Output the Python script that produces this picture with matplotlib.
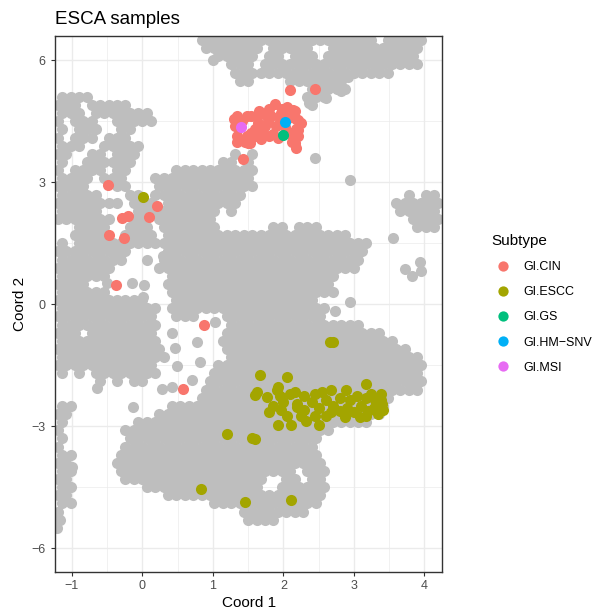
import matplotlib
matplotlib.use("Agg")
import matplotlib.pyplot as plt
from matplotlib.lines import Line2D

plt.rcParams["font.family"] = ["Liberation Sans", "DejaVu Sans"]

# ──────────────────────────────────────────────────────────────────────────
# Background samples (grey): (y, [x, ...])
# ──────────────────────────────────────────────────────────────────────────

GRAY_TOP = [
    (6.5, [0.84, 0.96, 1.08, 1.2, 1.32, 1.44, 1.56, 1.68, 1.8, 1.92, 2.04, 2.16, 2.28, 2.4, 2.52, 2.64,
           2.76, 2.88, 3.0, 3.12, 3.24, 3.48, 3.6, 3.72, 3.84, 3.96]),
    (6.3, [0.9, 1.02, 1.14, 1.26, 1.38, 1.5, 1.62, 1.86, 1.98, 2.1, 2.22, 2.34, 2.7, 2.82, 2.94, 3.06,
           3.18, 3.3, 3.42, 3.54, 3.66, 3.78, 3.9]),
    (6.1, [1.08, 1.2, 1.32, 1.44, 1.56, 1.8, 1.92, 2.16, 2.28, 2.4, 2.64, 2.76, 2.88, 3.0, 3.12, 3.24,
           3.36, 3.48, 3.6, 3.72, 3.84]),
    (5.9, [1.26, 1.38, 1.5, 1.74, 1.86, 1.98, 2.1, 2.22, 2.34, 2.46, 2.58, 2.7, 2.82, 2.94, 3.06, 3.18,
           3.3, 3.42, 3.54, 3.66, 3.78, 3.9]),
    (5.7, [1.32, 1.44, 1.56, 1.68, 1.8, 1.92, 2.04, 2.16, 2.28, 2.4, 2.52, 2.64, 2.76, 2.88, 3.0, 3.12,
           3.24, 3.36, 3.48]),
    (5.5, [1.38, 1.5, 2.1, 2.22, 2.34, 2.46, 2.58, 2.7, 2.82]),
    (5.3, [2.4, 2.52, 2.64, 2.76, 2.88]),
    (5.1, [2.34, 2.46, 2.58]),
    (4.9, [2.4]),
]

GRAY_LEFT = [
    (5.1, [-1.14, -1.02, -0.9, -0.78]),
    (4.9, [-1.2, -1.08, -0.96, -0.72, -0.6, -0.48, -0.36, -0.24]),
    (4.7, [-1.14, -1.02, -0.9, -0.66, -0.54, -0.42, -0.3, -0.18, -0.06, 0.06]),
    (4.5, [-1.2, -0.96, -0.84, -0.72, -0.36, -0.24, -0.12, 0.0, 0.12]),
    (4.3, [-1.14, -0.9, -0.78, -0.66, -0.3, -0.18]),
    (4.1, [-1.2, -0.96, -0.84, -0.72, -0.48, -0.36, -0.24]),
    (3.9, [-1.14, -1.02, -0.9, -0.54, -0.42, -0.3, -0.18, -0.06]),
    (3.7, [-1.2, -1.08, -0.72, -0.6, -0.36, -0.24, -0.12]),
    (3.5, [-1.14, -0.78, -0.66, -0.54, -0.42, -0.3, -0.18]),
    (3.3, [-1.2, -0.96, -0.84, -0.72, -0.6, -0.36, -0.24]),
    (3.1, [-1.14, -1.02, -0.9, -0.78, -0.54, -0.42, -0.3]),
    (2.9, [-1.2, -1.08, -0.96, -0.84, -0.36, -0.24]),
    (2.7, [-1.14, -1.02, -0.9, -0.78, -0.66, -0.18, -0.06]),
    (2.5, [-1.2, -1.08, -0.96, -0.84, -0.72, -0.6, -0.48, -0.36, -0.12, 0.0]),
    (2.3, [-1.14, -1.02, -0.9, -0.78, -0.66, -0.06, 0.06]),
    (2.1, [-1.2, -1.08, -0.96, -0.84, -0.72, -0.6, -0.48, -0.12, 0.0]),
    (1.9, [-0.9, -0.78, -0.66, -0.54, -0.18, -0.06, 0.06]),
    (1.7, [-0.96, -0.84, -0.72, -0.6, -0.24, -0.12, 0.0, 0.12]),
    (1.5, [-1.14, -0.9, -0.78, -0.66, -0.54, -0.42, -0.3, -0.18, -0.06]),
    (1.3, [-1.2, -1.08, -0.96, -0.84, -0.72, -0.6, -0.48, -0.36, -0.24]),
    (1.1, [-1.14, -1.02, -0.9, -0.78, -0.66, -0.54, -0.42, -0.3, 0.06]),
    (0.9, [-1.2, -1.08, -0.96, -0.84, -0.72, -0.6, -0.48]),
    (0.7, [-1.14, -1.02, -0.9, -0.78, -0.66, -0.54]),
    (0.5, [-1.2, -1.08, -0.96, -0.84]),
    (0.3, [-1.14, -1.02, -0.9, -0.78, -0.66, -0.54]),
]

GRAY_CENTRAL = [
    (3.7, [1.32, 1.56]),
    (3.5, [1.14, 1.26, 1.5]),
    (3.3, [0.48, 0.6, 0.72, 0.84, 0.96, 1.08, 1.2, 1.32, 1.44, 1.56]),
    (3.1, [0.18, 0.3, 0.42, 0.54, 0.66, 0.78, 0.9, 1.02, 1.14, 1.26, 1.38, 1.5]),
    (2.9, [0.24, 0.36, 0.48, 0.6, 0.72, 0.84, 0.96, 1.08, 1.2, 1.32, 1.44, 1.56]),
    (2.7, [0.18, 0.3, 0.42, 0.54, 0.66, 0.78, 0.9, 1.02, 1.14, 1.26, 1.38]),
    (2.5, [0.12, 0.36, 0.48, 0.6, 0.72, 0.84, 0.96, 1.08, 1.2, 1.32]),
    (2.3, [0.18, 0.3, 0.42, 0.54, 0.66, 0.78, 0.9, 1.02, 1.26]),
    (2.1, [0.24, 0.36, 0.48, 0.6, 0.72, 0.84, 0.96]),
    (1.9, [0.3, 0.42, 0.54, 0.66, 0.78, 0.9, 1.02, 1.86, 1.98, 2.22, 2.34, 2.46]),
    (1.7, [0.36, 0.48, 0.6, 0.72, 0.84, 0.96, 1.08, 1.2, 1.32, 1.44, 1.56, 1.68, 1.8, 1.92, 2.04, 2.16,
           2.28, 2.4, 2.52, 2.64, 2.76, 2.88]),
    (1.5, [0.06, 0.18, 0.3, 0.42, 0.54, 0.66, 0.78, 0.9, 1.02, 1.14, 1.26, 1.38, 1.5, 1.62, 1.74, 1.86,
           1.98, 2.1, 2.22, 2.34, 2.46, 2.58, 2.7, 2.82, 2.94, 3.06, 3.18]),
    (1.3, [0.36, 0.48, 0.6, 0.72, 0.84, 0.96, 1.08, 1.2, 1.32, 1.44, 1.56, 1.68, 1.8, 1.92, 2.04, 2.16,
           2.28, 2.4, 2.52, 2.64, 2.76, 2.88, 3.0, 3.12]),
    (1.1, [0.3, 0.42, 0.54, 0.66, 0.78, 0.9, 1.02, 1.14, 1.26, 1.38, 1.5, 1.62, 1.74, 1.86, 1.98, 2.1,
           2.22, 2.34, 2.46, 2.58, 2.7, 2.82, 2.94, 3.06]),
    (0.9, [0.24, 0.36, 0.48, 0.6, 0.72, 0.84, 0.96, 1.08, 1.2, 1.32, 1.44, 1.56, 1.68, 1.8, 1.92, 2.04,
           2.16, 2.28, 2.4, 2.52, 2.64, 2.76, 2.88, 3.0]),
    (0.7, [0.42, 0.54, 0.66, 0.78, 0.9, 1.02, 1.14, 1.26, 1.38, 1.5, 1.62, 1.74, 1.86, 1.98, 2.1, 2.22,
           2.34, 2.46, 2.58, 2.7]),
    (0.5, [0.36, 0.48, 0.6, 0.72, 0.84, 0.96, 1.08, 1.2, 1.32, 1.44, 1.56, 1.68, 1.8, 1.92, 2.04, 2.16,
           2.28, 2.4, 2.52, 2.64]),
    (0.3, [0.42, 0.54, 0.66, 0.78, 0.9, 1.02, 1.14, 1.26, 1.38, 1.5, 1.62, 1.74, 1.86, 1.98, 2.1, 2.22,
           2.34, 2.46, 2.58, 2.7]),
    (0.1, [0.48, 0.6, 0.72, 0.84, 0.96, 1.08, 1.2, 1.32, 1.44, 1.56, 1.68, 1.8, 1.92, 2.04, 2.16, 2.28,
           2.4]),
    (-0.1, [0.42, 0.54, 0.66, 0.78, 0.9, 1.02, 1.14, 1.26, 1.38, 1.5, 1.62, 1.74, 1.86, 1.98, 2.1, 2.22,
            2.34, 2.46, 2.58]),
    (-0.3, [0.48, 0.6, 0.72, 1.2, 1.32, 1.44, 1.56, 1.68, 1.8, 1.92, 2.04, 2.16, 2.28, 2.4, 2.52]),
]

GRAY_MIDLEFT = [
    (0.1, [-1.2, -1.08, -0.96, -0.84, -0.72, -0.6, -0.48, -0.36, -0.24, -0.12, 0.0]),
    (-0.1, [-1.14, -1.02, -0.9, -0.78, -0.66, -0.54, -0.42, -0.3, -0.18, -0.06, 0.06, 0.18]),
    (-0.3, [-1.2, -1.08, -0.96, -0.84, -0.72, -0.6, -0.48, -0.36, -0.24, -0.12, 0.0, 0.12]),
    (-0.5, [-1.14, -1.02, -0.9, -0.78, -0.66, -0.54, -0.42, -0.3, -0.18, -0.06, 0.06, 0.18]),
    (-0.7, [-1.2, -1.08, -0.96, -0.72, -0.6, -0.48, -0.36, -0.24, -0.12, 0.0, 0.12]),
    (-0.9, [-1.14, -1.02, -0.9, -0.78, -0.66, -0.54, -0.42, -0.3, -0.18, -0.06, 0.06, 0.18]),
    (-1.1, [-1.2, -1.08, -0.96, -0.84, -0.72, -0.6, -0.48, -0.36, -0.24, -0.12, 0.0, 0.12, 0.24]),
    (-1.3, [-1.14, -1.02, -0.9, -0.78, -0.66, -0.54, -0.42, -0.3, -0.18, -0.06, 0.06, 0.18, 0.3]),
    (-1.5, [-1.2, -1.08, -0.96, -0.84, -0.72, -0.6, -0.48, -0.36, -0.24, -0.12, 0.0, 0.12]),
    (-1.7, [-1.14, -0.9, -0.66, -0.54, -0.42, -0.3, -0.18, -0.06, 0.06, 0.18]),
    (-1.9, [-0.6, -0.36, -0.12, 0.0]),
]

GRAY_MIDRIGHT = [
    (-0.5, [1.26, 1.38, 1.5, 1.62, 1.74, 1.86, 1.98, 2.1, 2.22, 2.34, 2.46, 2.58, 2.7, 2.82, 2.94, 3.06]),
    (-0.7, [1.2, 1.32, 1.44, 1.56, 1.68, 1.8, 1.92, 2.04, 2.16, 2.28, 2.4, 2.52, 2.64, 2.76, 2.88, 3.0,
            3.12, 3.24, 3.36]),
    (-0.9, [1.14, 1.26, 1.38, 1.5, 1.62, 1.74, 1.86, 1.98, 2.1, 2.22, 2.34, 2.46, 2.58, 2.7, 2.82, 2.94,
            3.06, 3.18, 3.3, 3.42, 3.54]),
    (-1.1, [1.2, 1.32, 1.44, 1.56, 1.68, 1.8, 1.92, 2.04, 2.16, 2.28, 2.4, 2.52, 2.64, 2.76, 2.88, 3.0,
            3.12, 3.24, 3.36, 3.48, 3.6, 3.72]),
    (-1.3, [1.26, 1.38, 1.5, 1.62, 1.74, 1.86, 1.98, 2.1, 2.22, 2.34, 2.46, 2.58, 2.7, 2.82, 2.94, 3.06,
            3.18, 3.3, 3.42, 3.54, 3.66, 3.78, 3.9]),
    (-1.5, [1.08, 1.2, 1.32, 1.44, 1.56, 1.68, 1.8, 1.92, 2.04, 2.16, 2.28, 2.4, 2.52, 2.64, 2.76, 2.88,
            3.0, 3.12, 3.24, 3.36, 3.48, 3.6, 3.72, 3.84, 3.96]),
    (-1.7, [1.02, 1.14, 1.26, 1.38, 1.5, 1.62, 1.74, 1.86, 1.98, 2.1, 2.22, 2.34, 2.46, 2.58, 2.7, 2.82,
            2.94, 3.06, 3.18, 3.3, 3.42, 3.54, 3.66, 3.78, 3.9]),
    (-1.9, [0.96, 1.08, 1.2, 1.32, 1.44, 1.56, 1.68, 1.8, 1.92, 2.04, 2.16, 2.28, 2.4, 2.52, 2.64, 2.76,
            2.88, 3.0, 3.12, 3.24, 3.36, 3.48, 3.6, 3.72, 3.84, 3.96]),
    (-2.1, [0.9, 1.02, 1.14, 1.26, 1.38, 1.5, 1.62, 1.74, 1.86, 1.98, 2.1, 2.22, 2.34, 2.46, 2.58, 2.7,
            2.82, 2.94, 3.06, 3.18, 3.3, 3.42, 3.54, 3.66, 3.78, 3.9]),
    (-2.3, [0.84, 0.96, 1.08, 1.2, 1.32, 1.44, 1.56, 1.68, 1.8, 1.92, 2.04, 2.16, 2.28, 2.4, 2.52, 2.64,
            2.76, 2.88, 3.0, 3.12, 3.24, 3.36, 3.48]),
    (-2.5, [0.42, 0.54, 0.66, 0.78, 0.9, 1.02, 1.14, 1.26, 1.38, 1.5, 1.62, 1.74, 1.86, 1.98, 2.1, 2.22,
            2.34, 2.46, 2.58, 2.7, 2.82, 2.94, 3.06, 3.18, 3.3, 3.42]),
    (-2.7, [0.24, 0.36, 0.48, 0.6, 0.72, 0.84, 0.96, 1.08, 1.2, 1.32, 1.44, 1.56, 1.68, 1.8, 1.92, 2.04,
            2.16, 2.28, 2.4, 2.52, 2.64, 2.76, 2.88, 3.0, 3.12, 3.24, 3.36]),
    (-2.9, [-0.06, 0.06, 0.18, 0.3, 0.42, 0.54, 0.66, 0.78, 0.9, 1.02, 1.14, 1.26, 1.38, 1.5, 1.62, 1.74,
            1.86, 1.98, 2.1, 2.22, 2.34, 2.46, 2.58, 2.7, 2.82, 2.94, 3.06, 3.18]),
    (-3.1, [-0.24, -0.12, 0.0, 0.12, 0.24, 0.36, 0.48, 0.6, 0.72, 0.84, 0.96, 1.08, 1.2, 1.32, 1.44, 1.56,
            1.68, 1.8, 1.92, 2.04, 2.16, 2.28, 2.4, 2.52, 2.64]),
    (-3.3, [-0.18, -0.06, 0.06, 0.18, 0.3, 0.42, 0.54, 0.66, 0.78, 0.9, 1.02, 1.14, 1.26, 1.38, 1.5, 1.62,
            1.74, 1.86, 1.98, 2.1, 2.22, 2.34, 2.46]),
    (-3.5, [-0.24, -0.12, 0.0, 0.12, 0.24, 0.36, 0.48, 0.6, 0.72, 0.84, 0.96, 1.08, 1.2, 1.32, 1.44, 1.56,
            1.68, 1.8, 1.92, 2.04, 2.16, 2.28, 2.4]),
    (-3.7, [-0.3, -0.18, -0.06, 0.06, 0.18, 0.3, 0.42, 0.54, 0.66, 0.78, 0.9, 1.02, 1.14, 1.26, 1.38, 1.5,
            1.62, 1.74, 1.86, 1.98, 2.1, 2.22, 2.34, 2.46]),
    (-3.9, [-0.36, -0.24, -0.12, 0.0, 0.12, 0.24, 0.36, 0.48, 0.6, 0.72, 0.84, 0.96, 1.08, 1.2, 1.32, 1.44,
            1.56, 1.68, 1.8, 1.92, 2.04, 2.16, 2.28, 2.4, 2.52]),
    (-4.1, [-0.3, -0.18, -0.06, 0.06, 0.18, 0.3, 0.42, 0.54, 0.66, 0.78, 0.9, 1.02, 1.14, 1.26, 1.38, 1.5,
            1.62, 1.74, 1.86, 1.98, 2.1, 2.34, 2.46, 2.58]),
    (-4.3, [-0.24, -0.12, 0.0, 0.12, 0.24, 0.36, 0.48, 0.6, 0.72, 0.84, 0.96, 1.08, 1.2, 1.32, 1.44, 1.56,
            1.68, 2.04, 2.16, 2.4, 2.52]),
    (-4.5, [0.06, 0.18, 0.3, 0.42, 0.54, 0.66, 0.78, 0.9, 1.02, 1.14, 1.26, 1.38, 1.5, 1.62, 1.98, 2.1,
            2.22, 2.34, 2.46, 2.58]),
    (-4.7, [0.36, 0.48, 0.6, 0.72, 0.84, 0.96, 1.08, 1.2, 1.32, 1.44, 1.56, 1.68, 1.8, 1.92, 2.04, 2.16,
            2.28, 2.4, 2.52]),
    (-4.9, [1.02, 1.14, 1.26, 1.38, 1.5, 1.62, 1.74, 1.86, 1.98, 2.1, 2.22, 2.34, 2.46]),
    (-5.1, [1.44, 1.56, 1.68, 1.8, 1.92, 2.04, 2.16, 2.28]),
    (-5.3, [1.5, 1.62, 1.74, 1.86]),
]

GRAY_STRIP = [
    (-2.5, [-1.14, -1.02]), (-2.7, [-1.2, -1.08]), (-2.9, [-1.14]), (-3.1, [-1.2]),
    (-3.3, [-1.14]), (-3.5, [-1.2]), (-3.7, [-1.14, -1.02]), (-3.9, [-1.2, -1.08]),
    (-4.1, [-1.14, -1.02]), (-4.3, [-1.2, -1.08]), (-4.5, [-1.14, -1.02]), (-4.7, [-1.2, -1.08]),
    (-4.9, [-1.14, -1.02]), (-5.1, [-1.2]), (-5.3, [-1.17]), (-5.5, [-1.21]),
]

GRAY_RIGHT = [
    (2.7, [3.78, 4.02, 4.14]),
    (2.5, [3.6, 3.72, 3.84, 3.96, 4.08, 4.2]),
    (2.3, [3.66, 3.78, 3.9, 4.02, 4.14]),
    (2.1, [3.84, 3.96, 4.08, 4.2]),
    (1.9, [3.9, 4.02, 4.14]),
]

# loose single samples, (x, y)
GRAY_SCATTER_X = [1.0, 2.36, 2.6, 2.82, 2.92, 2.45, 2.95, 3.56, 0.29, 2.95, 2.74, 1.03, 0.42, 0.46,
                  0.78, 0.82, 0.49, 0.7, 0.28, 0.42, -0.64, -0.13, -1.0, 0.01, -0.5, -0.15, 0.03,
                  -0.67, 1.65, 3.73, 3.82, 3.94, 3.96]
GRAY_SCATTER_Y = [6.0, 4.95, 5.07, 5.25, 5.6, 3.6, 3.05, 1.64, 1.19, 0.05, -0.17, -0.44, -0.7, -1.08,
                  -0.93, -1.42, -1.52, -1.87, -2.08, -2.03, -2.05, -2.53, -4.0, 0.18, 0.53, 0.53, 0.48,
                  0.25, 4.25, 0.86, 0.69, 1.03, 0.81]

# ──────────────────────────────────────────────────────────────────────────
# Subtype samples
# ──────────────────────────────────────────────────────────────────────────

CIN_X = [1.34, 1.32, 1.34, 1.34, 1.48, 1.48, 1.50, 1.43, 1.54, 1.54, 1.53, 1.69, 1.72, 1.74, 1.88,
         1.83, 1.90, 1.86, 1.96, 2.17, 2.18, 2.18, 2.21, 2.17, 2.18, 2.10, 2.07, 1.64, 1.79, 2.14,
         2.21, 2.21, 2.14, 1.40, 1.60, 2.00, 1.42, 1.62, 1.78, 1.95, 2.02, 1.92, 1.60, 1.45, 1.80,
         2.05, 1.66, 1.30, 2.25, 2.12, 1.70, 1.98, 2.10, 2.45,
         -0.49, 0.21, -0.29, -0.21, 0.10, -0.48, -0.26, -0.38, 0.88, 0.57]
CIN_Y = [4.63, 4.38, 4.14, 3.99, 4.63, 4.14, 3.97, 3.57, 4.63, 4.21, 3.97, 4.06, 4.68, 4.38, 4.93,
         4.63, 4.38, 4.18, 4.70, 4.75, 4.56, 4.31, 4.14, 3.97, 3.84, 4.21, 4.58, 4.46, 4.14, 4.78,
         4.53, 4.29, 4.12, 4.50, 4.30, 4.62, 4.50, 4.60, 4.50, 4.55, 4.35, 4.10, 4.15, 4.00, 4.80,
         4.85, 4.75, 4.55, 4.45, 4.00, 4.25, 4.80, 5.27, 5.29,
         2.93, 2.42, 2.11, 2.17, 2.15, 1.70, 1.64, 0.48, -0.50, -2.08]

ESCC_X = [0.01, 2.66, 2.71, 1.67, 2.05, 3.18, 1.62, 1.60, 1.77, 1.91, 1.92, 2.10, 2.17, 2.30, 2.45,
          2.68, 2.89, 3.25, 3.39, 3.38, 3.40, 3.30, 3.18, 3.05, 2.95, 2.80, 2.60, 2.40, 2.20, 2.00,
          1.85, 1.96, 2.19, 2.30, 2.50, 2.70, 2.90, 3.10, 3.28, 3.42, 3.35, 3.18, 3.09, 2.88, 2.67,
          2.45, 2.32, 2.50, 2.11, 1.93, 1.79, 2.05, 1.60, 1.56, 1.20, 0.83, 1.45, 2.11, 3.00, 2.60,
          2.25, 1.95, 2.55, 2.80, 3.20]
ESCC_Y = [2.64, -0.94, -0.94, -1.74, -1.79, -1.97, -2.16, -2.24, -2.28, -2.10, -2.04, -2.20, -2.17,
          -2.25, -2.20, -2.10, -2.10, -2.21, -2.21, -2.36, -2.45, -2.35, -2.30, -2.25, -2.35, -2.30,
          -2.35, -2.40, -2.45, -2.40, -2.50, -2.60, -2.53, -2.60, -2.55, -2.50, -2.55, -2.50, -2.55,
          -2.60, -2.70, -2.74, -2.78, -2.78, -2.66, -2.75, -2.86, -2.96, -2.96, -2.96, -2.66, -2.75,
          -3.32, -3.28, -3.19, -4.54, -4.87, -4.81, -2.65, -2.75, -2.75, -2.25, -2.15, -2.62, -2.62]

GS_X = [2.00]
GS_Y = [4.16]
HMSNV_X = [2.02]
HMSNV_Y = [4.48]
MSI_X = [1.40]
MSI_Y = [4.37]

SUBTYPES = ["GI.CIN", "GI.ESCC", "GI.GS", "GI.HM\u2212SNV", "GI.MSI"]
SUBTYPE_COLORS = ["#F8766D", "#A3A500", "#00BF7D", "#00B0F6", "#E76BF3"]

X_TICKS = [-1, 0, 1, 2, 3, 4]
Y_TICKS = [-6, -3, 0, 3, 6]


def flatten_rows(rows):
    xs, ys = [], []
    for y, row in rows:
        xs.extend(row)
        ys.extend([y] * len(row))
    return xs, ys


W, H = 598, 614
fig = plt.figure(figsize=(W / 100, H / 100), dpi=100)
ax = fig.add_axes([55 / W, (H - 571.7) / H, 387.3 / W, 535.7 / H])

point_size = 64
gray_x, gray_y = [], []
for region in (GRAY_TOP, GRAY_LEFT, GRAY_CENTRAL, GRAY_MIDLEFT, GRAY_MIDRIGHT, GRAY_STRIP, GRAY_RIGHT):
    rx, ry = flatten_rows(region)
    gray_x += rx
    gray_y += ry
gray_x += GRAY_SCATTER_X
gray_y += GRAY_SCATTER_Y
ax.scatter(gray_x, gray_y, s=point_size, c="#BEBEBE", linewidths=0, zorder=2)

# draw order: olive, red, green, blue, magenta
ax.scatter(ESCC_X, ESCC_Y, s=point_size, c=SUBTYPE_COLORS[1], linewidths=0, zorder=3)
ax.scatter(CIN_X, CIN_Y, s=point_size, c=SUBTYPE_COLORS[0], linewidths=0, zorder=3)
ax.scatter(GS_X, GS_Y, s=point_size, c=SUBTYPE_COLORS[2], linewidths=0, zorder=3)
ax.scatter(HMSNV_X, HMSNV_Y, s=point_size, c=SUBTYPE_COLORS[3], linewidths=0, zorder=3)
ax.scatter(MSI_X, MSI_Y, s=point_size, c=SUBTYPE_COLORS[4], linewidths=0, zorder=3)

ax.set_xlim(-1.24, 4.256)
ax.set_ylim(-6.58, 6.6)
ax.set_xticks(X_TICKS)
ax.set_yticks(Y_TICKS)
ax.set_xticks([-0.5, 0.5, 1.5, 2.5, 3.5], minor=True)
ax.set_yticks([-4.5, -1.5, 1.5, 4.5], minor=True)
ax.grid(which="major", color="#EBEBEB", linewidth=1.0)
ax.grid(which="minor", color="#EBEBEB", linewidth=0.5)
ax.set_axisbelow(True)
ax.tick_params(which="major", length=2.75, width=0.8, color="#333333", labelcolor="#4D4D4D",
               labelsize=9)
ax.tick_params(axis="y", pad=4)
ax.tick_params(axis="x", pad=3)
ax.tick_params(which="minor", length=0)
for sp in ax.spines.values():
    sp.set_color("#333333")
    sp.set_linewidth(1.0)

fig.text(55 / W, 1 - 24.5 / H, "ESCA samples", fontsize=13.5, ha="left", va="baseline")
fig.text(248.6 / W, 1 - 607 / H, "Coord 1", fontsize=11, ha="center", va="baseline")
fig.text(20 / W, 1 - 304 / H, "Coord 2", fontsize=11, ha="center", va="center", rotation=90)

# legend, drawn by hand
fig.text(491 / W, 1 - 245 / H, "Subtype", fontsize=11, ha="left", va="baseline")
for i, (label, color) in enumerate(zip(SUBTYPES, SUBTYPE_COLORS)):
    yc = 265.7 + 25.1 * i
    fig.add_artist(Line2D([502.7 / W], [1 - yc / H], transform=fig.transFigure, marker="o",
                          markersize=7.4, markerfacecolor=color, markeredgewidth=0, linestyle=""))
    fig.text(523 / W, 1 - (yc + 4.6) / H, label, fontsize=9, ha="left", va="baseline")

fig.savefig("out.png", dpi=100)
